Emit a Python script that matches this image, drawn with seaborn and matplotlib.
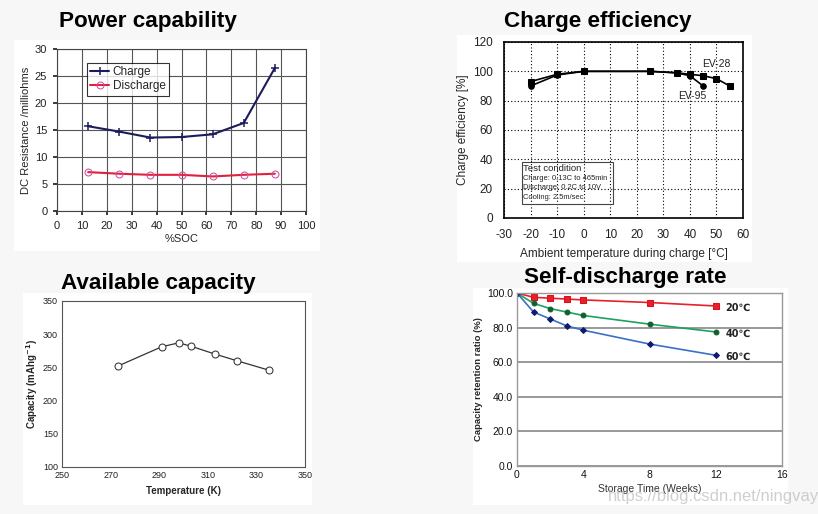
import matplotlib
matplotlib.use("Agg")
import matplotlib.pyplot as plt
import seaborn as sns
from matplotlib.patches import Rectangle

sns.set_theme(style="white")
plt.rcParams['font.family'] = ['Liberation Sans', 'DejaVu Sans']
plt.rcParams['axes.unicode_minus'] = False

# ---- data ----
soc = [12.5, 25, 37.5, 50, 62.5, 75, 87.5]
r_charge = [15.7, 14.7, 13.6, 13.7, 14.2, 16.3, 26.5]
r_discharge = [7.2, 6.9, 6.7, 6.7, 6.4, 6.7, 6.9]

t_ev28 = [-20, -10, 0, 25, 35, 40, 45, 50, 55]
eff_ev28 = [93, 98, 100, 100, 99, 98, 97, 95, 90]
t_ev95 = [-20, -10, 0, 25, 35, 40, 45]
eff_ev95 = [90, 97.5, 100, 100, 99, 97, 90]

temp_k = [273, 291, 298, 303, 313, 322, 335]
capacity = [252, 281, 287, 282, 270, 260, 246]

weeks = [0, 1, 2, 3, 4, 8, 12]
ret_20 = [100, 97.5, 97, 96.5, 96, 94.5, 92.5]
ret_40 = [100, 94, 91, 89, 87, 82, 77.5]
ret_60 = [100, 89, 85, 81, 78.5, 70.5, 64]

W, H = 818, 514
fig = plt.figure(figsize=(W / 100, H / 100), dpi=100)
fig.patch.set_facecolor('#f7f7f7')


def px_axes(x0, y0, x1, y1):
    return fig.add_axes([x0 / W, 1 - y1 / H, (x1 - x0) / W, (y1 - y0) / H])


def panel(x0, y0, x1, y1):
    fig.patches.append(Rectangle((x0 / W, 1 - y1 / H), (x1 - x0) / W, (y1 - y0) / H,
                                 transform=fig.transFigure, facecolor='white',
                                 edgecolor='none', zorder=-5))


def title(x, y, s):
    fig.text(x / W, 1 - y / H, s, ha='center', va='center', fontsize=16.2,
             fontweight='bold', color='black')


# panel backgrounds
panel(14, 40, 320, 251)
panel(457, 35, 752, 262)
panel(23, 293, 312, 505)
panel(473, 288, 788, 505)

# ---- Power capability ----
title(148, 22, "Power capability")
ax1 = px_axes(57, 49, 306, 211)
sns.lineplot(x=soc, y=r_charge, ax=ax1, color='#1c1c5c', marker='+', markersize=6,
             markeredgewidth=1.1, markeredgecolor='#1c1c5c', linewidth=1.5, label='Charge')
sns.lineplot(x=soc, y=r_discharge, ax=ax1, color='#e0203c', marker='o', markersize=5,
             markerfacecolor='none', markeredgecolor='#d050a0', linewidth=1.5, label='Discharge')
ax1.set_xlim(0, 100)
ax1.set_ylim(0, 30)
ax1.set_xticks(range(0, 101, 10))
ax1.set_yticks(range(0, 31, 5))
ax1.grid(True, color='#555555', linewidth=0.8)
for s in ax1.spines.values():
    s.set_color('#444444')
    s.set_linewidth(0.8)
ax1.tick_params(labelsize=8, colors='#222222', length=3, direction='out', bottom=True, left=True,
                pad=4)
ax1.set_xlabel("%SOC", fontsize=8, labelpad=2)
ax1.set_ylabel("DC Resistance /milliohms", fontsize=8, labelpad=3)
leg = ax1.legend(loc='upper left', bbox_to_anchor=(0.12, 0.915), borderaxespad=0, fontsize=8.5,
                 frameon=True, fancybox=False, edgecolor='black', borderpad=0.3,
                 handlelength=1.6, labelspacing=0.15, handletextpad=0.3)
leg.get_frame().set_linewidth(0.8)

# ---- Charge efficiency ----
title(598, 22, "Charge efficiency")
ax2 = px_axes(504, 42, 743, 218)
sns.lineplot(x=t_ev28, y=eff_ev28, ax=ax2, color='black', marker='s', markersize=5,
             markeredgecolor='black', linewidth=1.2)
sns.lineplot(x=t_ev95, y=eff_ev95, ax=ax2, color='black', marker='o', markersize=4,
             markeredgecolor='black', linewidth=1.2)
ax2.set_xlim(-30, 60)
ax2.set_ylim(0, 120)
ax2.set_xticks(range(-30, 61, 10))
ax2.set_yticks(range(0, 121, 20))
ax2.grid(True, color='black', linestyle=(0, (1, 2)), linewidth=0.8)
for s in ax2.spines.values():
    s.set_color('black')
    s.set_linewidth(1.2)
ax2.tick_params(labelsize=8.5, colors='#222222', length=0, pad=8)
ax2.set_xlabel("Ambient temperature during charge [°C]", fontsize=8.5, labelpad=5)
ax2.set_ylabel("Charge efficiency [%]", fontsize=8.5, labelpad=3)
ax2.text(44.5, 103, "EV-28", fontsize=7.5, color='#222222')
ax2.text(35.5, 83, "EV-95", fontsize=7.5, color='#222222', va='center')
ax2.text(-22.8, 36.5, "Test condition", fontsize=6.8, va='top', color='#222222')
ax2.text(-22.8, 29.5, "Charge: 0.13C to 465min\nDischarge: 0.2C to 10V\nCooling: 2.5m/sec",
         fontsize=5.4, va='top', color='#222222', linespacing=1.55)
ax2.add_patch(Rectangle((-23.3, 9.5), 34.3, 28.5, facecolor='none', edgecolor='#444444',
                        linewidth=0.8, zorder=3))

# ---- Available capacity ----
title(158, 284, "Available capacity")
ax3 = px_axes(62, 301, 305, 467)
sns.lineplot(x=temp_k, y=capacity, ax=ax3, color='#333333', marker='o', markersize=5,
             markerfacecolor='white', markeredgecolor='#333333', linewidth=0.9)
ax3.set_xlim(250, 350)
ax3.set_ylim(100, 350)
ax3.set_xticks(range(250, 351, 20))
ax3.set_yticks(range(100, 351, 50))
for s in ax3.spines.values():
    s.set_color('#555555')
    s.set_linewidth(0.8)
ax3.tick_params(labelsize=6.5, colors='#222222', length=0, pad=3)
ax3.set_xlabel("Temperature (K)", fontsize=7, fontweight='bold', labelpad=4)
ax3.set_ylabel("Capacity (mAhg$^{\\mathbf{-1}}$)", fontsize=7, fontweight='bold', labelpad=2)

# ---- Self-discharge rate ----
title(625, 277, "Self-discharge rate")
ax4 = px_axes(517, 293, 782, 466)
sns.lineplot(x=weeks, y=ret_20, ax=ax4, color='#e8202a', marker='s', markersize=4,
             markeredgecolor='#d81020', linewidth=1.2)
sns.lineplot(x=weeks, y=ret_40, ax=ax4, color='#20a060', marker='o', markersize=3.5,
             markerfacecolor='#106030', markeredgecolor='#106030', linewidth=1.2)
sns.lineplot(x=weeks, y=ret_60, ax=ax4, color='#3a70c8', marker='D', markersize=3,
             markerfacecolor='#101a70', markeredgecolor='#101a70', linewidth=1.2)
ax4.set_xlim(0, 16)
ax4.set_ylim(0, 100)
ax4.set_xticks(range(0, 17, 4))
ax4.set_yticks(range(0, 101, 20))
ax4.set_yticklabels([f"{v:.1f}" for v in range(0, 101, 20)])
ax4.yaxis.grid(True, color='#888888', linewidth=1.2)
for s in ax4.spines.values():
    s.set_color('#999999')
    s.set_linewidth(1.0)
ax4.tick_params(labelsize=7.5, colors='#111111', length=0, pad=3)
ax4.set_xlabel("Storage Time (Weeks)", fontsize=7.5, color='#333333', labelpad=3)
ax4.set_ylabel("Capacity retention ratio (%)", fontsize=6.8, fontweight='bold', labelpad=3)
for lab, yv in [("20℃", ret_20[-1]), ("40℃", ret_40[-1]), ("60℃", ret_60[-1])]:
    ax4.text(12.6, yv - 1, lab, fontsize=7, fontweight='bold', va='center', color='#222222',
             family=['DejaVu Sans'])

# watermark
fig.text(608 / W, 1 - 497 / H, "https://blog.csdn.net/ningvay", fontsize=12,
         color='#b0b0b0', alpha=0.6, va='center', ha='left')

fig.savefig("out.png", dpi=100, facecolor=fig.get_facecolor())
